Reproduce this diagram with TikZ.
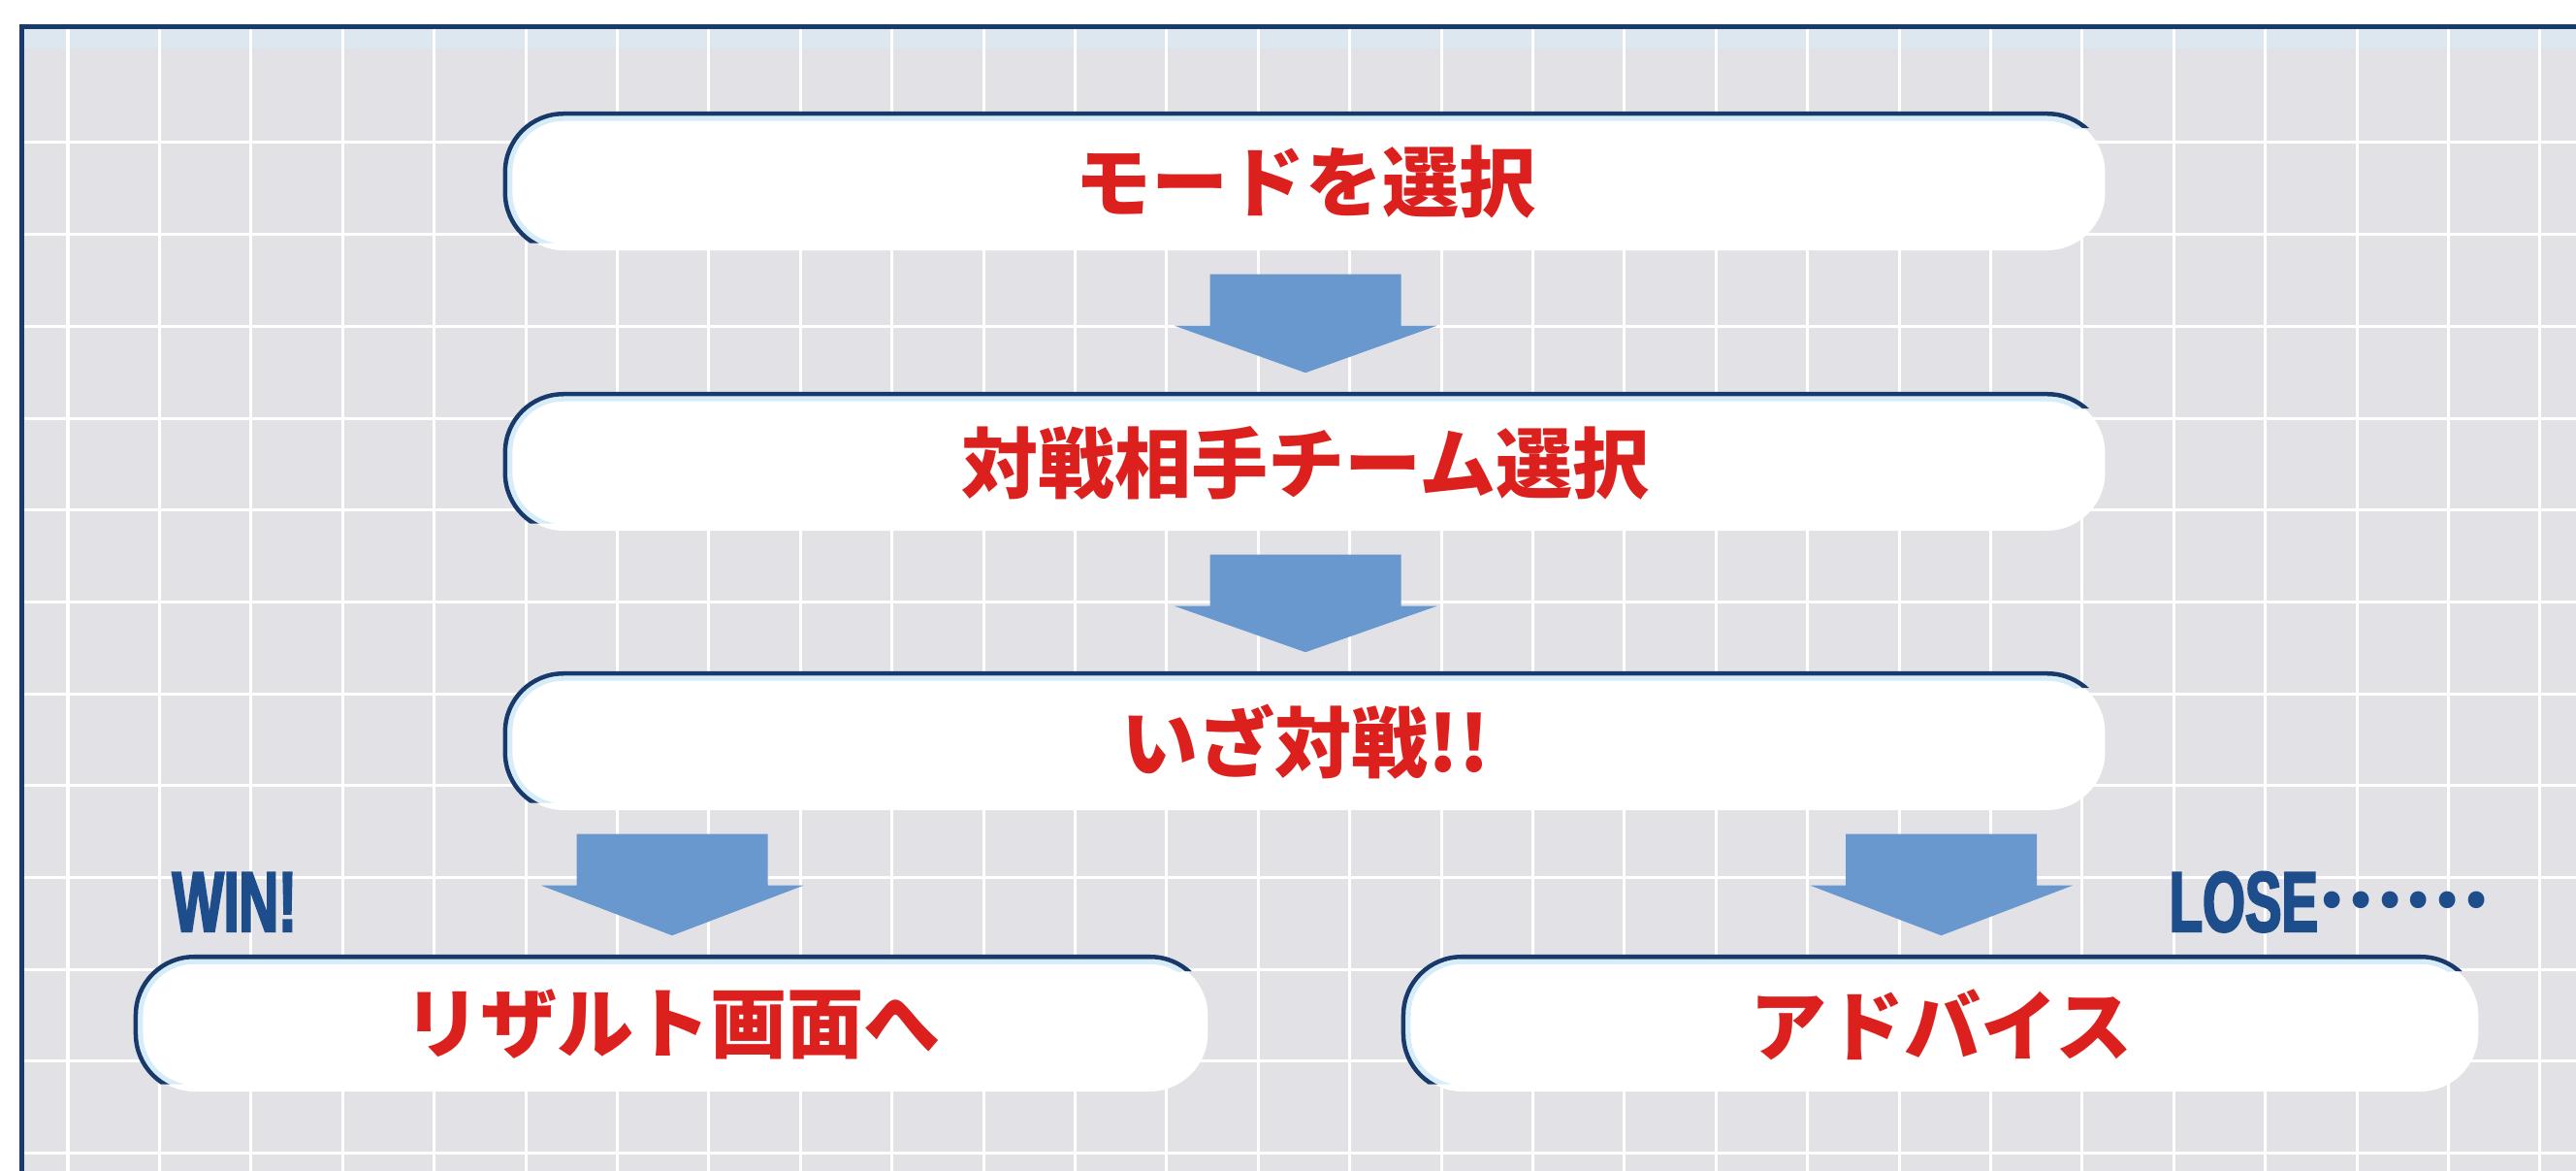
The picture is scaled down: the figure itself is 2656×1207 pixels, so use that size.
\documentclass[tikz,border=0pt]{standalone}
\usepackage{fontspec}
\usetikzlibrary{calc}
\newfontfamily\jpfont{Noto Sans CJK JP}
\newfontfamily\condfont{Liberation Sans}[UprightFont={* Bold}, FakeStretch=0.64, FakeBold=2.5]
\definecolor{bggray}{RGB}{226,226,230}
\definecolor{framenavy}{RGB}{24,58,108}
\definecolor{rimnavy}{RGB}{23,58,107}
\definecolor{rimlight}{RGB}{214,236,248}
\definecolor{arrowblue}{RGB}{104,152,206}
\definecolor{jpred}{RGB}{220,32,30}
\definecolor{winblue}{RGB}{30,77,140}
\newcommand{\pillrim}[1]{%
  \begin{scope}
    \clip ($(#1.south west)+(-20,-8)$) -- ($(#1.south west)+(45,-8)$)
      -- ($(#1.north east)+(-25,15)$) -- ($(#1.north east)+(20,15)$)
      -- ($(#1.north east)+(20,-20)$) -- ($(#1.north west)+(-20,-20)$) -- cycle;
    \draw[rimlightline] ($(#1.south west)+(5,-5)$) [rounded corners=0.55cm] rectangle ($(#1.north east)+(-5,5)$);
    \draw[rimline] (#1.south west) [rounded corners=0.6cm] rectangle (#1.north east);
  \end{scope}}
\newcommand{\flowarrow}[2]{%
  \fill[arrowfill] ($(#2.north |- #1.south)+(-98.5,24)$) -- ++(197,0) -- ++(0,53) -- ++(37,0)
    -- ($(#2.north)+(0,-22)$) -- ($(#2.north |- #1.south)+(-135,77)$) -- ++(36.5,0) -- cycle;}
\begin{document}
\begin{tikzpicture}[x=0.01cm,y=-0.01cm,
  pill/.style={fill=white, rounded corners=0.6cm, minimum height=1.4cm, inner sep=0pt,
    font=\jpfont\bfseries\fontsize{22.5}{27}\selectfont, text=jpred},
  rimline/.style={draw=rimnavy, line width=0.045cm},
  rimlightline/.style={draw=rimlight, line width=0.05cm},
  arrowfill/.style={fill=arrowblue},
  gridline/.style={draw=white, line width=0.03cm},
  wintext/.style={font=\condfont\fontsize{25}{30}\selectfont, text=winblue, inner sep=0pt, anchor=base west}]
\useasboundingbox (0,0) rectangle (2656,1207);
\fill[white] (0,0) rectangle (2656,1207);
\fill[bggray] (25,30) rectangle (2656,1207);
\fill[rimlight!50!bggray] (25,30) rectangle (2656,50);
\foreach \i in {0,...,27} \draw[gridline] ({70+94.4*\i},30) -- ({70+94.4*\i},1207);
\foreach \j in {0,...,11} \draw[gridline] (25,{147+94.7*\j}) -- (2656,{147+94.7*\j});
\fill[framenavy] (20,25) rectangle (2656,30);
\fill[framenavy] (20,25) rectangle (25,1207);

\node[pill, minimum width=16.48cm] (b1) at (1346,188) {モードを選択};
\node[pill, minimum width=16.48cm] (b2) at (1346,477) {対戦相手チーム選択};
\node[pill, minimum width=16.48cm] (b3) at (1346,765) {いざ対戦!!};
\node[pill, minimum width=11.04cm, minimum height=1.38cm] (b4) at (693,1056) {リザルト画面へ};
\node[pill, minimum width=11.07cm, minimum height=1.38cm] (b5) at (2001.5,1056) {アドバイス};
\pillrim{b1}\pillrim{b2}\pillrim{b3}\pillrim{b4}\pillrim{b5}

\flowarrow{b1}{b2}
\flowarrow{b2}{b3}
\flowarrow{b3}{b4}
\flowarrow{b3}{b5}

\node[wintext] (win) at (177,960) {WIN!};
\node[wintext] (lose) at (2236,960) {LOSE\raisebox{7pt}{\jpfont\bfseries\fontsize{22.5}{27}\selectfont ……}};
\end{tikzpicture}
\end{document}
